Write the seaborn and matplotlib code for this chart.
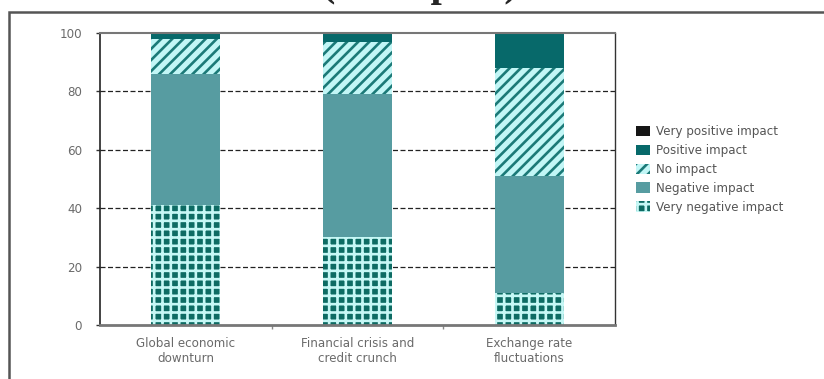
import numpy as np
import pandas as pd
import seaborn as sns
import matplotlib.pyplot as plt
from matplotlib.patches import Patch, Rectangle

# dados (% dos respondentes)
categorias = ["Global economic\ndownturn", "Financial crisis and\ncredit crunch", "Exchange rate\nfluctuations"]
muito_negativo = [41, 30, 11]
negativo = [45, 49, 40]
sem_impacto = [12, 18, 37]
positivo = [2, 3, 12]
muito_positivo = [0, 0, 0]

nomes = ["Very negative impact", "Negative impact", "No impact", "Positive impact", "Very positive impact"]
series = [muito_negativo, negativo, sem_impacto, positivo, muito_positivo]

# estilos (face, hachura, cor da hachura)
estilos = {
    "Very negative impact": ("#0d6b63", "++", "#c6f7f5"),
    "Negative impact": ("#579ca1", "", "#579ca1"),
    "No impact": ("#c2f6f6", "///", "#1b7a78"),
    "Positive impact": ("#07696a", "", "#07696a"),
    "Very positive impact": ("#161616", "", "#161616"),
}

sns.set_style("white")
plt.rcParams["hatch.linewidth"] = 1.9
plt.rcParams["font.family"] = ["DejaVu Sans"]

fig = plt.figure(figsize=(8.24, 3.79), dpi=100)
ax = fig.add_axes([100 / 824, 1 - 325 / 379, 515 / 824, 292 / 379])

# barras empilhadas: desenha o acumulado de cima para baixo
acumulado = np.cumsum(np.array(series), axis=0)
for i in range(len(nomes) - 1, -1, -1):
    face, hatch, hcor = estilos[nomes[i]]
    df = pd.DataFrame({"cat": categorias, "valor": acumulado[i]})
    sns.barplot(data=df, x="cat", y="valor", ax=ax, color=face, width=0.4,
                saturation=1, linewidth=0, edgecolor=hcor, hatch=hatch)

ax.set_xlim(-0.5, 2.5)
ax.set_ylim(0, 100)
ax.set_yticks([0, 20, 40, 60, 80, 100])
ax.set_xticks([0.5, 1.5], minor=False)
ax.set_xticklabels([])
for k, c in enumerate(categorias):
    ax.text(k, -4, c, ha="center", va="top", fontsize=8.6, color="#6a6a6a", linespacing=1.25)
ax.set_xlabel("")
ax.set_ylabel("")
ax.tick_params(axis="y", length=3, width=1, color="#333333", labelsize=8.6, labelcolor="#6a6a6a", pad=10, left=True)
ax.tick_params(axis="x", length=3, width=1, color="#888888", bottom=True)

for y in [20, 40, 60, 80]:
    ax.axhline(y, color="#222222", lw=0.9, ls=(0, (4, 2)), zorder=0)

ax.spines["left"].set_color("#222222")
ax.spines["left"].set_linewidth(1.2)
ax.spines["right"].set_color("#333333")
ax.spines["right"].set_linewidth(1)
ax.spines["top"].set_color("#777777")
ax.spines["top"].set_linewidth(1.5)
ax.spines["bottom"].set_color("#777777")
ax.spines["bottom"].set_linewidth(2)

# legenda
handles = []
for nome in nomes[::-1]:
    face, hatch, hcor = estilos[nome]
    handles.append(Patch(facecolor=face, hatch=hatch, edgecolor=hcor, linewidth=0, label=nome))
fig.legend(handles=handles, loc="upper left", bbox_to_anchor=(636 / 824, 1 - 125 / 379),
           frameon=False, fontsize=8.6, labelcolor="#555555", handlelength=1.2,
           handleheight=1.0, labelspacing=0.5, handletextpad=0.5, borderaxespad=0,
           borderpad=0)

# moldura e titulo cortado (no original so aparece a parte de baixo)
fig.patches.append(Rectangle((9 / 824, -0.1), 1.2, 1 - 12 / 379 + 0.1, transform=fig.transFigure,
                             fill=False, edgecolor="#555555", linewidth=1.8))
fig.text(0.510, 1 + 4.5 / 379, "(% impact)", ha="center", va="baseline",
         fontsize=29, fontweight="bold", family="Liberation Serif")

fig.savefig("out.png", dpi=100)
